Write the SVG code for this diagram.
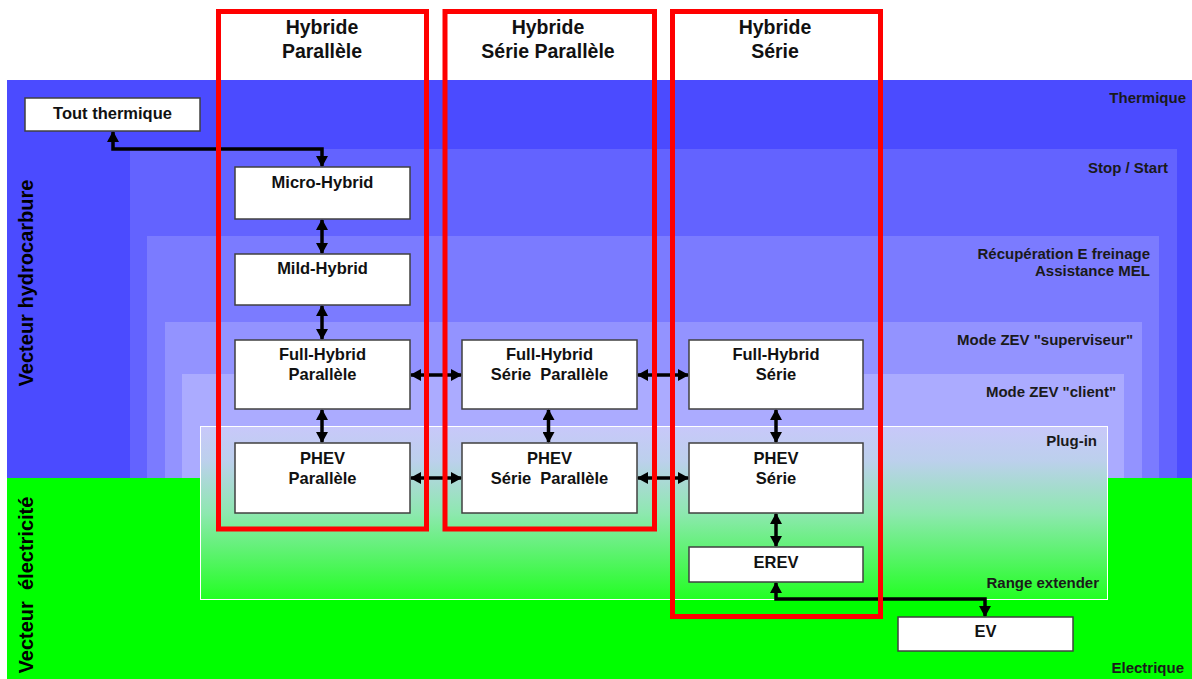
<svg xmlns="http://www.w3.org/2000/svg" width="1192" height="679" viewBox="0 0 1192 679">
<defs>
<style>
.node rect{fill:#fff;stroke:#404040;stroke-width:1.5}
.nt{font-family:"Liberation Sans",Arial,sans-serif;font-weight:bold;font-size:16.5px;fill:#111;text-anchor:middle}
.hd{font-family:"Liberation Sans",Arial,sans-serif;font-weight:bold;font-size:19.5px;fill:#111;text-anchor:middle}
.bl{font-family:"Liberation Sans",Arial,sans-serif;font-weight:bold;font-size:15px;fill:#1a1a1a;text-anchor:end}
.vt{font-family:"Liberation Sans",Arial,sans-serif;font-weight:bold;font-size:20px;fill:#000;text-anchor:middle}
.cn{fill:none;stroke:#000;stroke-width:3.5;marker-start:url(#ah);marker-end:url(#ah)}
.red{fill:none;stroke:#ff0000;stroke-width:5}
</style>
<marker id="ah" markerUnits="userSpaceOnUse" markerWidth="11" markerHeight="12" refX="10" refY="6" orient="auto-start-reverse" viewBox="0 0 11 12">
<path d="M0,0 L11,6 L0,12 z" fill="#000"/>
</marker>
<linearGradient id="pg" x1="0" y1="0" x2="0" y2="1">
<stop offset="0" stop-color="#c8c8fa"/>
<stop offset="0.2" stop-color="#bcd0ec"/>
<stop offset="0.5" stop-color="#8ee8b0"/>
<stop offset="1" stop-color="#22ff22"/>
</linearGradient>
</defs>
<rect x="0" y="0" width="1192" height="679" fill="#fff"/>
<g id="bands">
<rect x="7" y="80" width="1185" height="398" fill="#4b4bff"/>
<rect x="7" y="478" width="1185" height="201" fill="#00ff00"/>
<rect x="130" y="149" width="1047" height="329" fill="#6363ff"/>
<rect x="147" y="236" width="1012" height="242" fill="#7b7bff"/>
<rect x="165" y="322" width="977" height="156" fill="#9393ff"/>
<rect x="182" y="374" width="942" height="104" fill="#ababff"/>
<rect x="200.5" y="426.5" width="907" height="173" fill="url(#pg)" stroke="#fff" stroke-width="1"/>
</g>
<g id="band-labels">
<text class="bl" x="1186" y="103">Thermique</text>
<text class="bl" x="1168" y="173">Stop / Start</text>
<text class="bl" x="1150" y="259">Récupération E freinage</text>
<text class="bl" x="1150" y="276">Assistance MEL</text>
<text class="bl" x="1133" y="345">Mode ZEV "superviseur"</text>
<text class="bl" x="1116" y="397">Mode ZEV "client"</text>
<text class="bl" x="1097" y="446">Plug-in</text>
<text class="bl" x="1099" y="588">Range extender</text>
<text class="bl" x="1184" y="673">Electrique</text>
<text class="vt" transform="translate(33,283) rotate(-90)">Vecteur hydrocarbure</text>
<text class="vt" transform="translate(33,585) rotate(-90)" xml:space="preserve">Vecteur  électricité</text>
</g>
<g id="connectors">
<path class="cn" d="M113,132 V149 H322 V166"/>
<path class="cn" d="M322,220 V253"/>
<path class="cn" d="M322,306 V339"/>
<path class="cn" d="M322,410 V442"/>
<path class="cn" d="M548.5,410 V442"/>
<path class="cn" d="M776,410 V442"/>
<path class="cn" d="M776,514 V546"/>
<path class="cn" d="M776,583 V599 H985 V616"/>
<path class="cn" d="M411,375 H461"/>
<path class="cn" d="M638,375 H688"/>
<path class="cn" d="M411,478 H461"/>
<path class="cn" d="M638,478 H688"/>
</g>
<g id="n-tout" class="node"><rect x="25" y="98" width="175" height="33"/><text class="nt" x="112.5" y="119">Tout thermique</text></g>
<g id="n-micro" class="node"><rect x="235" y="167" width="175" height="52"/><text class="nt" x="322.5" y="188">Micro-Hybrid</text></g>
<g id="n-mild" class="node"><rect x="235" y="254" width="175" height="51"/><text class="nt" x="322.5" y="274">Mild-Hybrid</text></g>
<g id="n-fhp" class="node"><rect x="235" y="340" width="175" height="69"/><text class="nt" x="322.5" y="360">Full-Hybrid</text><text class="nt" x="322.5" y="380">Parallèle</text></g>
<g id="n-php" class="node"><rect x="235" y="443" width="175" height="70"/><text class="nt" x="322.5" y="464">PHEV</text><text class="nt" x="322.5" y="484">Parallèle</text></g>
<g id="n-fhsp" class="node"><rect x="462" y="340" width="175" height="69"/><text class="nt" x="549.5" y="360">Full-Hybrid</text><text class="nt" x="549.5" y="380" xml:space="preserve">Série  Parallèle</text></g>
<g id="n-phsp" class="node"><rect x="462" y="443" width="175" height="70"/><text class="nt" x="549.5" y="464">PHEV</text><text class="nt" x="549.5" y="484" xml:space="preserve">Série  Parallèle</text></g>
<g id="n-fhs" class="node"><rect x="689" y="340" width="174" height="69"/><text class="nt" x="776" y="360">Full-Hybrid</text><text class="nt" x="776" y="380">Série</text></g>
<g id="n-phs" class="node"><rect x="689" y="443" width="174" height="70"/><text class="nt" x="776" y="464">PHEV</text><text class="nt" x="776" y="484">Série</text></g>
<g id="n-erev" class="node"><rect x="689" y="547" width="174" height="35"/><text class="nt" x="776" y="568">EREV</text></g>
<g id="n-ev" class="node"><rect x="898" y="617" width="175" height="34"/><text class="nt" x="985.5" y="637">EV</text></g>
<g id="columns">
<rect class="red" x="218.5" y="11.5" width="208" height="517.5"/>
<rect class="red" x="445" y="11.5" width="209.5" height="517.5"/>
<rect class="red" x="672.5" y="11.5" width="208" height="605"/>
<text class="hd" x="322" y="34">Hybride</text>
<text class="hd" x="322" y="57.5">Parallèle</text>
<text class="hd" x="548" y="34">Hybride</text>
<text class="hd" x="548" y="57.5">Série Parallèle</text>
<text class="hd" x="775" y="34">Hybride</text>
<text class="hd" x="775" y="57.5">Série</text>
</g>
</svg>
